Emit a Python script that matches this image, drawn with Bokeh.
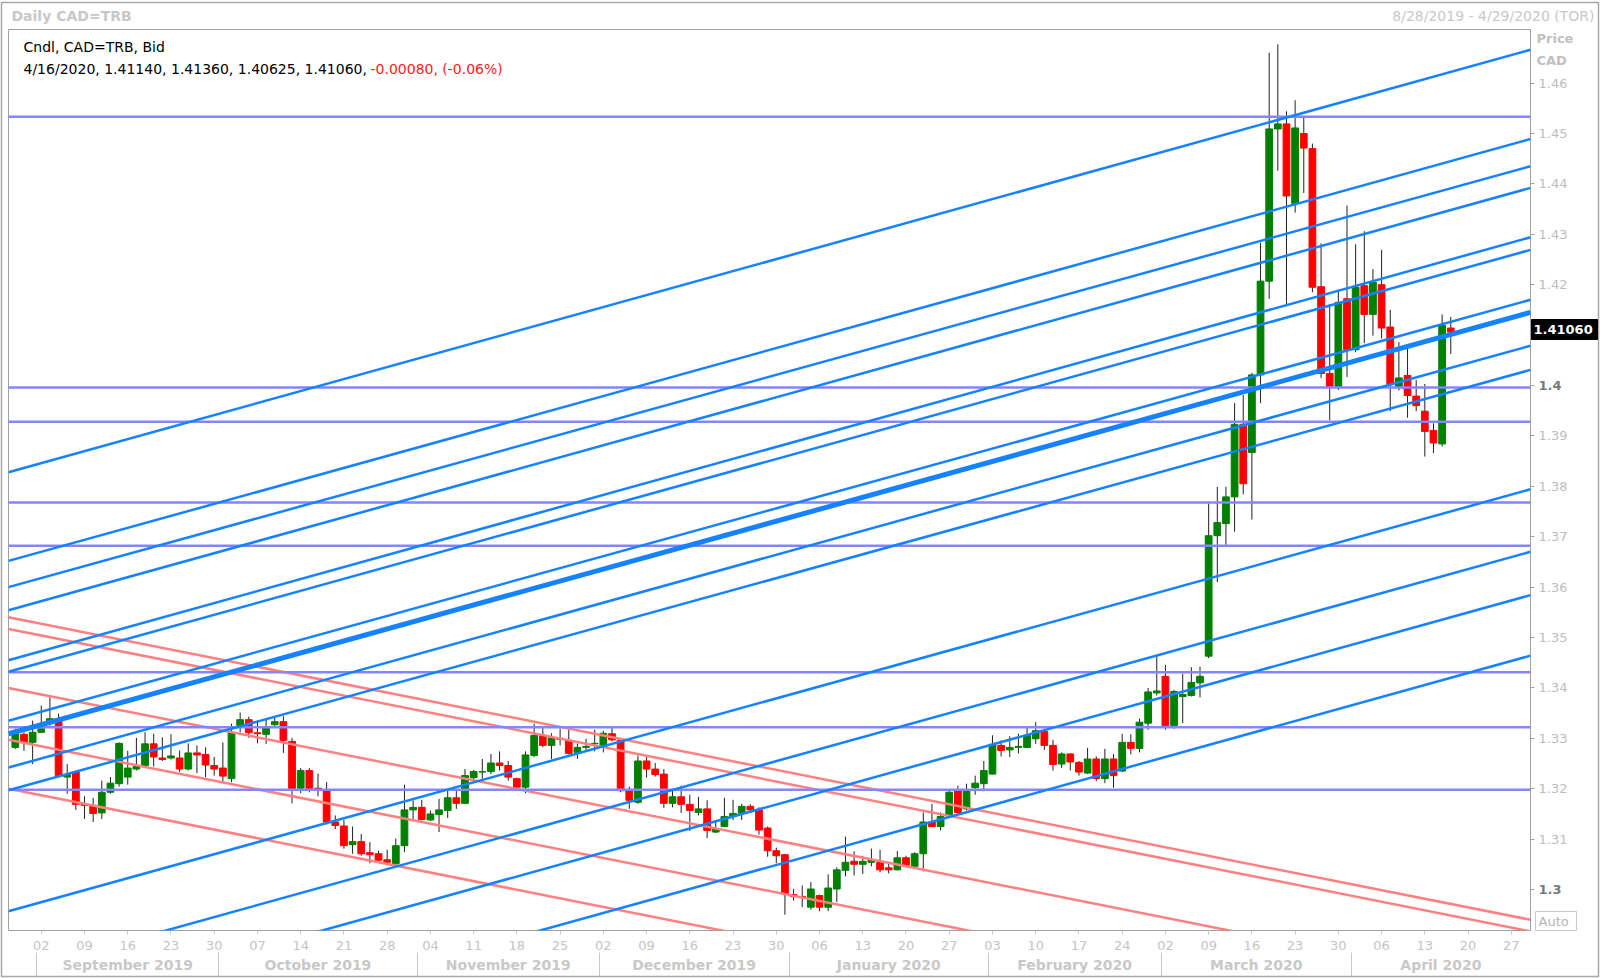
from bokeh.plotting import figure
from bokeh.models import ColumnDataSource, Range1d, LinearAxis, FixedTicker
from bokeh.core.properties import value
from bokeh.embed import file_html
from bokeh.resources import INLINE

# ---------------- data (index 0 = 2019-08-28, one slot per weekday) ----------------
opens = [1.3282, 1.3308, 1.3292, 1.3312, 1.3329, 1.3335, 1.3223, 1.3233, 1.3169, 1.3167,
         1.3152, 1.3193, 1.3210, 1.3223, 1.3239, 1.3246, 1.3289, 1.3261, 1.3261, 1.3261,
         1.3239, 1.3271, 1.3268, 1.3246, 1.3241, 1.3220, 1.3325, 1.3337, 1.3311, 1.3308,
         1.3327, 1.3333, 1.3294, 1.3201, 1.3236, 1.3201, 1.3198, 1.3134, 1.3126, 1.3089,
         1.3095, 1.3073, 1.3071, 1.3059, 1.3051, 1.3087, 1.3158, 1.3163, 1.3138, 1.3149,
         1.3157, 1.3182, 1.3171, 1.3222, 1.3233, 1.3234, 1.3251, 1.3246, 1.3220, 1.3203,
         1.3266, 1.3306, 1.3286, 1.3300, 1.3296, 1.3272, 1.3282, 1.3289, 1.3282, 1.3309,
         1.3296, 1.3196, 1.3173, 1.3255, 1.3239, 1.3229, 1.3171, 1.3184, 1.3169, 1.3153,
         1.3160, 1.3114, 1.3125, 1.3145, 1.3151, 1.3165, 1.3158, 1.3122, 1.3077, 1.3069,
         1.2990, 1.2986, 1.2965, 1.2988, 1.2965, 1.3001, 1.3038, 1.3056, 1.3050, 1.3054,
         1.3054, 1.3043, 1.3039, 1.3063, 1.3046, 1.3071, 1.3134, 1.3125, 1.3149, 1.3196,
         1.3160, 1.3202, 1.3210, 1.3229, 1.3286, 1.3277, 1.3282, 1.3282, 1.3299, 1.3314,
         1.3286, 1.3249, 1.3269, 1.3252, 1.3231, 1.3259, 1.3220, 1.3259, 1.3235, 1.3292,
         1.3280, 1.3330, 1.3390, 1.3423, 1.3325, 1.3383, 1.3385, 1.3410, 1.3463, 1.3702,
         1.3726, 1.3779, 1.3923, 1.3867, 1.4021, 1.4207, 1.4509, 1.4519, 1.4361, 1.4500,
         1.4470, 1.4196, 1.4024, 1.3998, 1.4172, 1.4071, 1.4198, 1.4141, 1.4200, 1.4116,
         1.3998, 1.4020, 1.3979, 1.3949, 1.3911, 1.3884, 1.41140]
highs = [1.3319, 1.3312, 1.3335, 1.3365, 1.3385, 1.3349, 1.3249, 1.3236, 1.3185, 1.3182,
         1.3216, 1.3223, 1.3292, 1.3275, 1.3301, 1.3312, 1.3309, 1.3302, 1.3308, 1.3276,
         1.3290, 1.3286, 1.3282, 1.3263, 1.3292, 1.3329, 1.3351, 1.3343, 1.3335, 1.3339,
         1.3344, 1.3344, 1.3301, 1.3241, 1.3241, 1.3230, 1.3213, 1.3147, 1.3138, 1.3125,
         1.3110, 1.3094, 1.3077, 1.3079, 1.3101, 1.3208, 1.3177, 1.3178, 1.3157, 1.3180,
         1.3198, 1.3196, 1.3239, 1.3237, 1.3259, 1.3269, 1.3274, 1.3255, 1.3222, 1.3274,
         1.3329, 1.3323, 1.3310, 1.3319, 1.3317, 1.3290, 1.3299, 1.3317, 1.3315, 1.3321,
         1.3297, 1.3204, 1.3266, 1.3264, 1.3251, 1.3239, 1.3196, 1.3206, 1.3188, 1.3184,
         1.3177, 1.3134, 1.3182, 1.3178, 1.3170, 1.3169, 1.3163, 1.3125, 1.3083, 1.3071,
         1.3001, 1.3008, 1.3015, 1.2990, 1.3030, 1.3044, 1.3105, 1.3076, 1.3067, 1.3081,
         1.3079, 1.3052, 1.3076, 1.3067, 1.3074, 1.3153, 1.3170, 1.3153, 1.3196, 1.3206,
         1.3210, 1.3226, 1.3255, 1.3306, 1.3296, 1.3304, 1.3309, 1.3321, 1.3332, 1.3319,
         1.3297, 1.3272, 1.3270, 1.3255, 1.3281, 1.3264, 1.3279, 1.3269, 1.3309, 1.3308,
         1.3339, 1.3400, 1.3463, 1.3446, 1.3396, 1.3428, 1.3441, 1.3442, 1.3766, 1.3799,
         1.3799, 1.3965, 1.3981, 1.4025, 1.4283, 1.4660, 1.4677, 1.4544, 1.4566, 1.4535,
         1.4480, 1.4282, 1.4162, 1.4190, 1.4357, 1.4280, 1.4306, 1.4231, 1.4269, 1.4150,
         1.4086, 1.4075, 1.4011, 1.4003, 1.3925, 1.4141, 1.41360]
lows = [1.3279, 1.3275, 1.3249, 1.3311, 1.3325, 1.3223, 1.3190, 1.3158, 1.3140, 1.3134,
        1.3140, 1.3190, 1.3204, 1.3208, 1.3236, 1.3241, 1.3244, 1.3255, 1.3258, 1.3233,
        1.3236, 1.3231, 1.3223, 1.3226, 1.3215, 1.3213, 1.3312, 1.3301, 1.3290, 1.3289,
        1.3322, 1.3271, 1.3171, 1.3191, 1.3193, 1.3185, 1.3129, 1.3120, 1.3081, 1.3071,
        1.3067, 1.3052, 1.3054, 1.3048, 1.3048, 1.3074, 1.3140, 1.3137, 1.3136, 1.3114,
        1.3142, 1.3160, 1.3170, 1.3218, 1.3220, 1.3229, 1.3236, 1.3216, 1.3202, 1.3191,
        1.3263, 1.3282, 1.3259, 1.3286, 1.3268, 1.3259, 1.3277, 1.3274, 1.3272, 1.3294,
        1.3193, 1.3160, 1.3170, 1.3222, 1.3224, 1.3162, 1.3163, 1.3152, 1.3116, 1.3147,
        1.3102, 1.3112, 1.3124, 1.3138, 1.3138, 1.3153, 1.3109, 1.3065, 1.3052, 1.2950,
        1.2978, 1.2965, 1.2960, 1.2957, 1.2957, 1.2975, 1.3026, 1.3028, 1.3031, 1.3046,
        1.3034, 1.3032, 1.3038, 1.3044, 1.3043, 1.3036, 1.3124, 1.3117, 1.3147, 1.3150,
        1.3157, 1.3188, 1.3195, 1.3228, 1.3264, 1.3263, 1.3270, 1.3281, 1.3289, 1.3277,
        1.3236, 1.3241, 1.3236, 1.3226, 1.3229, 1.3215, 1.3211, 1.3202, 1.3233, 1.3268,
        1.3272, 1.3317, 1.3385, 1.3317, 1.3319, 1.3330, 1.3383, 1.3381, 1.3459, 1.3610,
        1.3684, 1.3710, 1.3784, 1.3734, 1.3965, 1.4172, 1.4426, 1.4157, 1.4343, 1.4382,
        1.4185, 1.4015, 1.3931, 1.3991, 1.4017, 1.4066, 1.4084, 1.4099, 1.4093, 1.3949,
        1.3990, 1.3936, 1.3949, 1.3859, 1.3866, 1.3879, 1.40625]
closes = [1.3309, 1.3292, 1.3312, 1.3319, 1.3339, 1.3226, 1.3228, 1.3169, 1.3167, 1.3151,
          1.3193, 1.3211, 1.3290, 1.3241, 1.3244, 1.3289, 1.3263, 1.3258, 1.3265, 1.3239,
          1.3271, 1.3267, 1.3247, 1.3239, 1.3225, 1.3312, 1.3337, 1.3311, 1.3309, 1.3322,
          1.3333, 1.3296, 1.3200, 1.3236, 1.3200, 1.3198, 1.3134, 1.3127, 1.3087, 1.3095,
          1.3071, 1.3069, 1.3058, 1.3054, 1.3087, 1.3158, 1.3163, 1.3139, 1.3150, 1.3158,
          1.3182, 1.3171, 1.3226, 1.3234, 1.3234, 1.3251, 1.3246, 1.3223, 1.3203, 1.3267,
          1.3306, 1.3286, 1.3301, 1.3298, 1.3270, 1.3282, 1.3284, 1.3290, 1.3310, 1.3297,
          1.3196, 1.3177, 1.3255, 1.3239, 1.3228, 1.3171, 1.3184, 1.3169, 1.3157, 1.3160,
          1.3117, 1.3120, 1.3145, 1.3151, 1.3165, 1.3158, 1.3118, 1.3077, 1.3067, 1.2991,
          1.2986, 1.2985, 1.3001, 1.2965, 1.3003, 1.3039, 1.3054, 1.3050, 1.3056, 1.3059,
          1.3039, 1.3039, 1.3063, 1.3048, 1.3071, 1.3134, 1.3125, 1.3145, 1.3193, 1.3153,
          1.3196, 1.3211, 1.3236, 1.3288, 1.3276, 1.3282, 1.3284, 1.3306, 1.3315, 1.3286,
          1.3248, 1.3269, 1.3253, 1.3233, 1.3259, 1.3220, 1.3259, 1.3226, 1.3292, 1.3280,
          1.3332, 1.3392, 1.3394, 1.3325, 1.3393, 1.3387, 1.3411, 1.3423, 1.3702, 1.3728,
          1.3779, 1.3923, 1.3805, 1.4021, 1.4207, 1.4509, 1.4519, 1.4376, 1.4511, 1.4471,
          1.4195, 1.4024, 1.3998, 1.4165, 1.4071, 1.4195, 1.4141, 1.4205, 1.4114, 1.4002,
          1.4015, 1.3980, 1.3960, 1.3909, 1.3886, 1.4119, 1.41060]

# weekly (Monday) ticks, weekday index and label
day_tick_idx = [3, 8, 13, 18, 23, 28, 33, 38, 43, 48, 53, 58, 63, 68, 73, 78, 83, 88,
                93, 98, 103, 108, 113, 118, 123, 128, 133, 138, 143, 148, 153, 158,
                163, 168, 173]
day_tick_labels = ["02", "09", "16", "23", "30", "07", "14", "21", "28", "04", "11", "18",
                   "25", "02", "09", "16", "23", "30", "06", "13", "20", "27", "03", "10",
                   "17", "24", "02", "09", "16", "23", "30", "06", "13", "20", "27"]
month_names = ["September 2019", "October 2019", "November 2019", "December 2019",
               "January 2020", "February 2020", "March 2020", "April 2020"]
month_first_idx = [3, 24, 47, 68, 90, 113, 133, 155]
month_last_idx = [23, 46, 67, 89, 112, 132, 154, 176]

price_ticks = [1.30, 1.31, 1.32, 1.33, 1.34, 1.35, 1.36, 1.37, 1.38, 1.39, 1.40,
               1.41, 1.42, 1.43, 1.44, 1.45, 1.46]

# drawn studies: horizontal levels and parallel trend lines (price at start / end index)
level_prices = [1.4533, 1.3996, 1.3928, 1.3768, 1.3682, 1.3431, 1.3322, 1.3198]
trend_x_start, trend_x_end = -0.79, 175.22
blue_start = [1.3828, 1.3652, 1.3600, 1.3554, 1.3455, 1.3432, 1.3335, 1.3309, 1.3242,
              1.3197, 1.2957, 1.2832, 1.2746, 1.2626]
blue_end = [1.4666, 1.4489, 1.4435, 1.4392, 1.4294, 1.4269, 1.4170, 1.4145, 1.4079,
            1.4031, 1.3794, 1.3670, 1.3584, 1.3464]
blue_widths = [2.5, 2.5, 2.5, 2.5, 2.5, 2.5, 2.5, 5, 2.5, 2.5, 2.5, 2.5, 2.5, 2.5]
red_start = [1.3540, 1.3517, 1.3400, 1.3297, 1.3200]
red_end = [1.2940, 1.2917, 1.2800, 1.2697, 1.2600]

# ---------------- figure ----------------
X0, X1 = -0.79, 175.22
Y0, Y1 = 1.29187, 1.47063
W, H = 1600, 978
FL, FT, FW, FH = 8, 29, 1522, 901

p = figure(width=W, height=H, x_range=Range1d(X0, X1), y_range=Range1d(Y0, Y1),
           output_backend="svg", toolbar_location=None,
           x_axis_location=None, y_axis_location=None,
           min_border_left=FL, min_border_right=W - FL - FW,
           min_border_top=FT, min_border_bottom=H - FT - FH)
p.xgrid.grid_line_color = None
p.ygrid.grid_line_color = None
p.outline_line_color = "#a0a0a0"
p.background_fill_color = "white"
p.border_fill_color = "white"


def fx(px):  # canvas pixel -> data x
    return X0 + (px - FL) * (X1 - X0) / FW


def fy(py):  # canvas pixel -> data y
    return Y1 - (py - FT) * (Y1 - Y0) / FH


FONT = "DejaVu Sans"

# candles
idx = list(range(len(opens)))
up = [i for i in idx if closes[i] >= opens[i]]
dn = [i for i in idx if closes[i] < opens[i]]
wick_src = ColumnDataSource(dict(x=idx, lo=lows, hi=highs))
p.segment(x0="x", y0="lo", x1="x", y1="hi", source=wick_src, line_color="#202020", line_width=1)
up_src = ColumnDataSource(dict(x=up, top=[closes[i] for i in up], bot=[opens[i] for i in up]))
dn_src = ColumnDataSource(dict(x=dn, top=[opens[i] for i in dn], bot=[closes[i] for i in dn]))
p.vbar(x="x", top="top", bottom="bot", width=0.78, source=up_src,
       fill_color="#008000", line_color="#008000", line_width=1)
p.vbar(x="x", top="top", bottom="bot", width=0.78, source=dn_src,
       fill_color="#ff0000", line_color="#ff0000", line_width=1)

# studies
red_src = ColumnDataSource(dict(x0=[trend_x_start] * len(red_start), x1=[trend_x_end] * len(red_end),
                                y0=red_start, y1=red_end))
p.segment(x0="x0", y0="y0", x1="x1", y1="y1", source=red_src, line_color="#ff8080", line_width=2.5)
lvl_src = ColumnDataSource(dict(x0=[trend_x_start] * len(level_prices), x1=[trend_x_end] * len(level_prices),
                                y=level_prices))
p.segment(x0="x0", y0="y", x1="x1", y1="y", source=lvl_src, line_color="#8585ff", line_width=2.5)
blue_src = ColumnDataSource(dict(x0=[trend_x_start] * len(blue_start), x1=[trend_x_end] * len(blue_end),
                                 y0=blue_start, y1=blue_end, w=blue_widths))
p.segment(x0="x0", y0="y0", x1="x1", y1="y1", source=blue_src, line_color="#1582ff", line_width="w")

# bottom day axis
xaxis = LinearAxis(ticker=FixedTicker(ticks=day_tick_idx),
                   major_label_overrides={t: l for t, l in zip(day_tick_idx, day_tick_labels)},
                   axis_line_color=None,
                   major_tick_line_color="#c8c8c8", major_tick_out=4, major_tick_in=0,
                   minor_tick_line_color=None,
                   major_label_standoff=6, major_label_text_color="#c4c4c4",
                   major_label_text_font=FONT, major_label_text_font_size="13px")
p.add_layout(xaxis, "below")

# month axis: labels at month centres, separators (minor ticks) at month boundaries
bounds = [f - 0.5 for f in month_first_idx]
centers = [((a - 0.5) + min(b + 0.5, X1)) / 2 for a, b in zip(month_first_idx, month_last_idx)]
maxis = LinearAxis(ticker=FixedTicker(ticks=centers, minor_ticks=bounds),
                   major_label_overrides={c: n for c, n in zip(centers, month_names)},
                   axis_line_color=None,
                   major_tick_line_color=None, major_tick_out=0, major_tick_in=0,
                   minor_tick_line_color="#c8c8c8", minor_tick_out=24, minor_tick_in=0,
                   major_label_standoff=-20, major_label_text_color="#c8c8c8",
                   major_label_text_font=FONT, major_label_text_font_size="14px",
                   major_label_text_font_style="bold")
p.add_layout(maxis, "below")

# right price axis
overrides = {}
for v in price_ticks:
    overrides[v] = "" if v in (1.30, 1.40, 1.41) else f"{v:.2f}"
yaxis = LinearAxis(ticker=FixedTicker(ticks=price_ticks), major_label_overrides=overrides,
                   axis_line_color=None, major_tick_out=4, major_tick_in=0,
                   major_tick_line_color="#a0a0a0", minor_tick_line_color=None,
                   major_label_standoff=4, major_label_text_color="#bdbdbd",
                   major_label_text_font=FONT, major_label_text_font_size="13px")
p.add_layout(yaxis, "right")


def txt(x, y, text, color, size="14px", bold=False, align="left"):
    p.text(x=[x], y=[y], text=[text], text_color=color, text_font=value(FONT),
           text_font_size=value(size), text_font_style=value("bold" if bold else "normal"),
           text_align=align, text_baseline="middle", level="overlay")


# outer widget frame
p.quad(left=[fx(1)], right=[fx(1598)], top=[fy(2)], bottom=[fy(976)], fill_color=None,
       line_color="#a8a8a8", line_width=1.5, level="overlay")

# bold axis labels for round levels
txt(fx(1538), 1.40, "1.4", "#7a7a7a", size="13px", bold=True)
txt(fx(1538), 1.30, "1.3", "#7a7a7a", size="13px", bold=True)

# headers
txt(fx(11), fy(15), "Daily CAD=TRB", "#c8c8c8", size="14px", bold=True)
txt(fx(1594), fy(15), "8/28/2019 - 4/29/2020 (TOR)", "#c8c8c8", size="14px", align="right")
txt(fx(23), fy(46.5), "Cndl, CAD=TRB, Bid", "#000000")
txt(fx(23), fy(68), "4/16/2020, 1.41140, 1.41360, 1.40625, 1.41060, ", "#000000")
txt(fx(370), fy(68), "-0.00080, (-0.06%)", "#ff2020")
txt(fx(1536), fy(38), "Price", "#c0c0c0", size="13px", bold=True)
txt(fx(1536), fy(60), "CAD", "#c0c0c0", size="13px", bold=True)

# last price box and Auto box
p.quad(left=[fx(1531)], right=[fx(1597)], top=[fy(319)], bottom=[fy(339)],
       fill_color="#000000", line_color="#000000", level="overlay")
txt(fx(1533), fy(329), f"{closes[-1]:.5f}", "#ffffff", size="13px", bold=True)
p.quad(left=[fx(1535)], right=[fx(1576)], top=[fy(911)], bottom=[fy(930)],
       fill_color="#ffffff", line_color="#c8c8c8", level="overlay")
txt(fx(1538), fy(920.5), "Auto", "#b4b4b4", size="13px")

open("out.html", "w").write(file_html(p, INLINE))
